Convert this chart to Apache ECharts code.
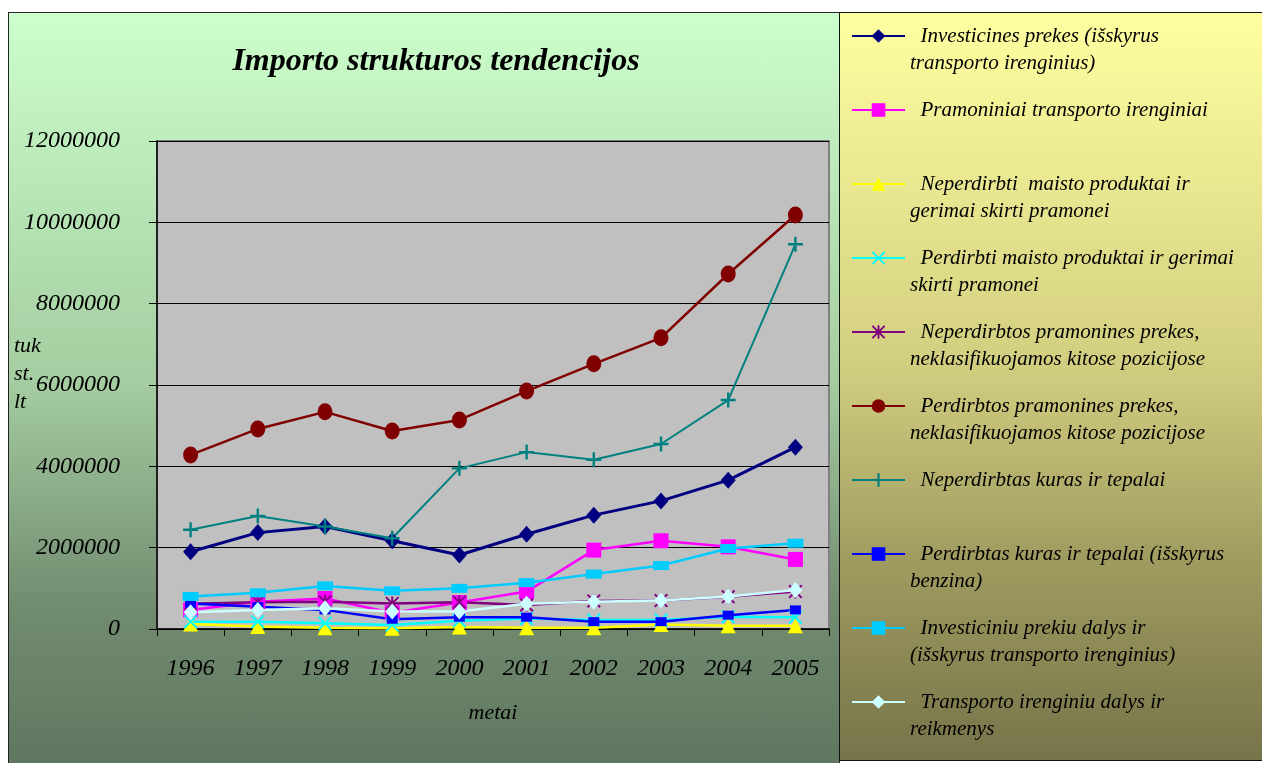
<!DOCTYPE html>
<html>
<head>
<meta charset="utf-8">
<title>Importo strukturos tendencijos</title>
<script src="https://cdn.jsdelivr.net/npm/echarts@6/dist/echarts.min.js"></script>
<style>
  body {
    margin: 0;
    background: #fff;
  }
  .panel {
    position: absolute;
    box-sizing: border-box;
  }
  .left {
    left: 8px;
    top: 12px;
    width: 832px;
    height: 760px;
    border: 1px solid #222;
    background: linear-gradient(#ccffcc 0%, #a4cca0 49%, #728c70 78%, #5e765e 100%);
  }
  .right {
    left: 839px;
    top: 12px;
    width: 440px;
    height: 749px;
    border: 1px solid #111;
    background: linear-gradient(#ffffa0 0%, #d2ce80 47%, #a09c60 73%, #76744a 100%);
  }
  #chart {
    position: absolute;
    left: 0;
    top: 0;
    width: 1262px;
    height: 763px;
  }
</style>
</head>
<body>
<div class="panel left"></div>
<div class="panel right"></div>
<div id="chart"></div>
<script>
  const years = ['1996', '1997', '1998', '1999', '2000', '2001', '2002', '2003', '2004', '2005']

  // tuk. lt
  const investicines = [1900000, 2370000, 2520000, 2170000, 1820000, 2330000, 2800000, 3150000, 3660000, 4470000]
  const pramoniniai = [470000, 670000, 750000, 400000, 650000, 920000, 1940000, 2170000, 2020000, 1710000]
  const neperdirbtiMaisto = [120000, 60000, 30000, 20000, 50000, 30000, 30000, 110000, 80000, 80000]
  const perdirbtiMaisto = [180000, 180000, 140000, 100000, 200000, 260000, 220000, 220000, 300000, 290000]
  const neperdirbtosPram = [620000, 660000, 670000, 630000, 660000, 590000, 690000, 700000, 790000, 920000]
  const perdirbtosPram = [4280000, 4920000, 5340000, 4870000, 5140000, 5850000, 6520000, 7160000, 8730000, 10180000]
  const neperdirbtasKuras = [2440000, 2780000, 2520000, 2230000, 3950000, 4350000, 4160000, 4550000, 5630000, 9460000]
  const perdirbtasKuras = [630000, 550000, 470000, 240000, 290000, 290000, 180000, 180000, 340000, 470000]
  const investiciniuDalys = [800000, 890000, 1060000, 940000, 1000000, 1140000, 1350000, 1560000, 1980000, 2110000]
  const transportoDalys = [410000, 470000, 510000, 430000, 430000, 620000, 670000, 700000, 800000, 960000]

  const names = [
    'Investicines prekes (išskyrus transporto irenginius)',
    'Pramoniniai transporto irenginiai',
    'Neperdirbti  maisto produktai ir gerimai skirti pramonei',
    'Perdirbti maisto produktai ir gerimai skirti pramonei',
    'Neperdirbtos pramonines prekes, neklasifikuojamos kitose pozicijose',
    'Perdirbtos pramonines prekes, neklasifikuojamos kitose pozicijose',
    'Neperdirbtas kuras ir tepalai',
    'Perdirbtas kuras ir tepalai (išskyrus benzina)',
    'Investiciniu prekiu dalys ir (išskyrus transporto irenginius)',
    'Transporto irenginiu dalys ir reikmenys'
  ]
  // legend text as wrapped in the original (leading blank line keeps the icon on the first line)
  const legendLabels = [
    '  Investicines prekes (išskyrus\ntransporto irenginius)',
    '  Pramoniniai transporto irenginiai\n ',
    '  Neperdirbti  maisto produktai ir\ngerimai skirti pramonei',
    '  Perdirbti maisto produktai ir gerimai\nskirti pramonei',
    '  Neperdirbtos pramonines prekes,\nneklasifikuojamos kitose pozicijose',
    '  Perdirbtos pramonines prekes,\nneklasifikuojamos kitose pozicijose',
    '  Neperdirbtas kuras ir tepalai\n ',
    '  Perdirbtas kuras ir tepalai (išskyrus\nbenzina)',
    '  Investiciniu prekiu dalys ir\n(išskyrus transporto irenginius)',
    '  Transporto irenginiu dalys ir\nreikmenys'
  ]

  const crossX = 'path://M0 1L1 0L5 4L9 0L10 1L6 5L10 9L9 10L5 6L1 10L0 9L4 5Z'
  const star = 'path://M0 1L1 0L5 4L9 0L10 1L6 5L10 9L9 10L5 6L1 10L0 9L4 5Z M4.3 0H5.7V10H4.3Z'
  const plus = 'path://M4.2 0H5.8V4.2H10V5.8H5.8V10H4.2V5.8H0V4.2H4.2Z'

  const font = 'Liberation Serif, Times New Roman, serif'

  const line = (name, data, color, symbol, symbolSize, width) => {
    return {
      name,
      type: 'line',
      data,
      symbol,
      symbolSize,
      showAllSymbol: true,
      lineStyle: { color, width: width || 2.5 },
      itemStyle: { color }
    }
  }

  const chart = echarts.init(document.getElementById('chart'))

  let option = {
    animation: false,
    title: [
      {
        text: 'Importo strukturos tendencijos',
        left: 436,
        top: 46,
        padding: 0,
        textAlign: 'center',
        textStyle: {
          fontFamily: font,
          fontStyle: 'italic',
          fontWeight: 'bold',
          fontSize: 32,
          color: '#000'
        }
      },
      {
        text: 'tuk\nst.\nlt',
        left: 14,
        top: 332,
        padding: 0,
        textStyle: {
          fontFamily: font,
          fontStyle: 'italic',
          fontWeight: 'normal',
          fontSize: 22,
          lineHeight: 28,
          color: '#000'
        }
      }
    ],
    legend: {
      orient: 'vertical',
      left: 851,
      top: -4.5,
      padding: 0,
      itemWidth: 53,
      itemHeight: 17,
      itemGap: -7,
      selectedMode: false,
      data: names,
      formatter: name => '\n' + legendLabels[names.indexOf(name)],
      textStyle: {
        fontFamily: font,
        fontStyle: 'italic',
        fontSize: 21,
        lineHeight: 27,
        color: '#000'
      }
    },
    grid: {
      left: 157,
      right: 433,
      top: 141,
      bottom: 134,
      show: true,
      backgroundColor: '#c0c0c0',
      borderColor: '#808080',
      borderWidth: 2,
      outerBoundsMode: 'none'
    },
    xAxis: {
      type: 'category',
      data: years,
      boundaryGap: true,
      name: 'metai',
      nameLocation: 'middle',
      nameGap: 73,
      nameTextStyle: {
        fontFamily: font,
        fontStyle: 'italic',
        fontSize: 22,
        color: '#000'
      },
      axisLine: { lineStyle: { color: '#000', width: 1.5 } },
      axisTick: { show: true, length: 7, lineStyle: { color: '#000' } },
      axisLabel: {
        margin: 28,
        fontFamily: font,
        fontStyle: 'italic',
        fontSize: 24,
        color: '#000'
      },
      splitLine: { show: false }
    },
    yAxis: {
      type: 'value',
      min: 0,
      max: 12000000,
      interval: 2000000,
      axisLine: { show: true, lineStyle: { color: '#000', width: 1.5 } },
      axisTick: { show: true, length: 8, lineStyle: { color: '#000' } },
      axisLabel: {
        margin: 37,
        formatter: v => String(v),
        fontFamily: font,
        fontStyle: 'italic',
        fontSize: 24,
        color: '#000'
      },
      splitLine: { show: true, lineStyle: { color: '#000', width: 1 } }
    },
    series: [
      line(names[0], investicines, '#000080', 'diamond', [15, 17], 3),
      line(names[1], pramoniniai, '#ff00ff', 'rect', 15),
      line(names[2], neperdirbtiMaisto, '#ffff00', 'triangle', 15),
      line(names[3], perdirbtiMaisto, '#00ffff', crossX, 14),
      line(names[4], neperdirbtosPram, '#800080', star, 14),
      line(names[5], perdirbtosPram, '#800000', 'circle', [15, 17]),
      line(names[6], neperdirbtasKuras, '#008080', plus, 15, 2),
      line(names[7], perdirbtasKuras, '#0000ff', 'rect', [11, 9]),
      line(names[8], investiciniuDalys, '#00ccff', 'rect', [16, 9]),
      line(names[9], transportoDalys, '#ccffff', 'diamond', [14, 16])
    ]
  }

  chart.setOption(option)
</script>
</body>
</html>
